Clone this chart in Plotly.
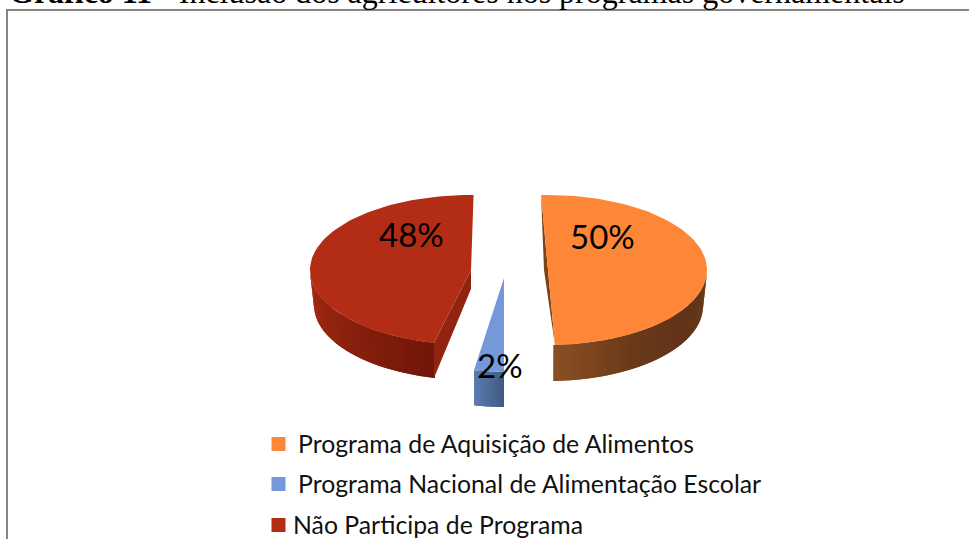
import numpy as np
import plotly.graph_objects as go

categories = ["Programa de Aquisição de Alimentos", "Programa Nacional de Alimentação Escolar", "Não Participa de Programa"]
values = [50, 2, 48]
title_bold = "Gráfico 11"
title_rest = " - Inclusão dos agricultores nos programas governamentais"

colors = ["#FE8637", "#7598D9", "#B32C16"]
W, H = 969, 539

# projection of each exploded slice: centre, radii, start angle, sweep factor, wall depth, shrink
geom = [
    dict(c=(548, 270), rx=159, ry=75, start=-2.5, k=1.0, depth=36, shrink=4,
         vis=(90, 178), wall=["#6B3D17", "#60321A", "#6A3A18", "#8A4E24"]),
    dict(c=(504, 278), rx=160, ry=94, start=180, k=1.5, depth=35, shrink=0,
         vis=(180, 190.8), wall=["#3F5A80", "#5A7BB0"]),
    dict(c=(471, 270), rx=161, ry=75, start=193.3, k=0.97, depth=35, shrink=4,
         vis=(193.3, 270), wall=["#6F1608", "#A52A14"]),
]

def mix(stops, f):
    pos = f * (len(stops) - 1)
    i = min(int(pos), len(stops) - 2)
    f = pos - i
    pa = [int(stops[i][j:j+2], 16) for j in (1, 3, 5)]
    pb = [int(stops[i + 1][j:j+2], 16) for j in (1, 3, 5)]
    return "rgb(%d,%d,%d)" % tuple(round(x + (y - x) * f) for x, y in zip(pa, pb))

def pt(g, t, down=False):
    r = np.radians(t)
    rx = g["rx"] - (g["shrink"] if down else 0)
    return g["c"][0] + rx * np.sin(r), g["c"][1] - g["ry"] * np.cos(r) + (g["depth"] if down else 0)

fig = go.Figure()

def poly(xs, ys, color):
    fig.add_trace(go.Scatter(x=list(xs), y=list(ys), mode="lines", fill="toself", fillcolor=color,
                             line=dict(color=color, width=0), hoverinfo="skip", showlegend=False))

for v, col, g in zip(values, colors, geom):
    sweep = v * 3.6 * g["k"]
    a0, a1 = g["vis"]
    n = 40
    edges = np.linspace(a0, a1, n + 1)
    for i in range(n):
        # each strip runs under the next one, so no seams show
        end = edges[min(i + 2, n)] if a0 < 180 else edges[max(i - 1, 0)]
        j = i if a0 < 180 else i + 1
        ts = np.linspace(edges[j], end, 5)
        top = [pt(g, t) for t in ts]
        bot = [pt(g, t, True) for t in ts[::-1]]
        xs, ys = zip(*(top + bot))
        poly(xs, ys, mix(g["wall"], i / (n - 1)))
    ts = np.linspace(g["start"], g["start"] + sweep, 90)
    arc = [pt(g, t) for t in ts]
    if col == colors[2]:  # inner cut face of the red slice
        p = pt(g, g["start"])
        poly([g["c"][0], p[0], p[0], g["c"][0]],
             [g["c"][1], p[1], p[1] + g["depth"], g["c"][1] + 19], "#92240F")
    if col == colors[0]:  # thin cut face of the orange slice
        a, b = arc[0], arc[-1]
        poly([a[0], g["c"][0] - 4, b[0], g["c"][0]], [a[1], g["c"][1], b[1], g["c"][1]], "#7A4318")
    xs = [g["c"][0]] + [p[0] for p in arc] + [g["c"][0]]
    ys = [g["c"][1]] + [p[1] for p in arc] + [g["c"][1]]
    poly(xs, ys, col)

# legend swatches
leg_y = [444, 484, 525]
for name, col, y in zip(categories, colors, leg_y):
    fig.add_trace(go.Scatter(x=[278.5], y=[y], mode="markers", name=name, showlegend=False,
                             marker=dict(symbol="square", size=14, color=col, line=dict(width=0))))

ann = []
for name, y, x in zip(categories, leg_y, [296, 296, 291]):
    ann.append(dict(x=x, y=y - 1, text=name, showarrow=False, xanchor="left", yanchor="middle",
                    font=dict(family="Lato", size=24.8, color="#111111")))
for v, (x, y) in zip(values, [(602, 236), (500, 365), (411, 234)]):
    ann.append(dict(x=x, y=y, text=f"{v}%", showarrow=False, xanchor="center", yanchor="middle",
                    font=dict(family="Lato", size=33, color="#000000")))
ann.append(dict(x=7 / W, y=1, xref="paper", yref="paper", yshift=28,
                text=f"<b>{title_bold}</b>{title_rest}", showarrow=False, xanchor="left",
                yanchor="top", font=dict(family="Liberation Serif", size=32, color="#000000")))

fig.update_layout(
    width=W, height=H, margin=dict(l=0, r=0, t=0, b=0), paper_bgcolor="white", plot_bgcolor="white",
    xaxis=dict(range=[0, W], visible=False, fixedrange=True),
    yaxis=dict(range=[H, 0], visible=False, fixedrange=True),
    showlegend=False, annotations=ann,
    shapes=[dict(type="path", path=f"M 7 {H} L 7 10 L {W} 10", line=dict(color="#868686", width=2))],
)
fig.write_html("out.html", config={"displayModeBar": False},
               post_script="document.body.style.margin='0';document.body.style.overflow='hidden';")
